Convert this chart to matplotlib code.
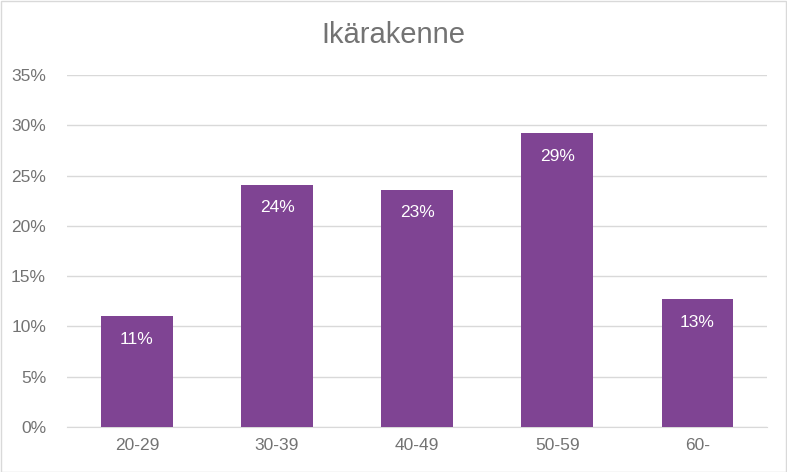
import matplotlib
matplotlib.use("Agg")
import matplotlib.pyplot as plt
from matplotlib.ticker import PercentFormatter

# data
groups = ['20-29', '30-39', '40-49', '50-59', '60-']
shares = [11.0, 24.1, 23.6, 29.2, 12.7]
shown = ['11%', '24%', '23%', '29%', '13%']

barcolor = '#7F4493'
textcolor = '#737373'
gridcolor = '#D9D9D9'

plt.rcParams['font.family'] = ['Liberation Sans', 'DejaVu Sans']

fig = plt.figure(figsize=(7.87, 4.72), dpi=100)
ax = fig.add_axes([0.085, 0.0953, 0.89, 0.7457])

x = range(len(groups))
bars = ax.bar(x, shares, width=0.51, color=barcolor, zorder=3)

for b, txt in zip(bars, shown):
    ax.annotate(txt, (b.get_x() + b.get_width() / 2, b.get_height()),
                xytext=(0, -16.5), textcoords='offset points',
                ha='center', va='center', color='white', fontsize=12.5)

ax.set_xlim(-0.5, len(groups) - 0.5)
ax.set_ylim(0, 35)
ax.set_yticks(range(0, 36, 5))
ax.yaxis.set_major_formatter(PercentFormatter(decimals=0))
ax.set_xticks(list(x))
ax.set_xticklabels(groups)

ax.grid(axis='y', color=gridcolor, linewidth=1, zorder=0)
for s in ['top', 'right', 'left']:
    ax.spines[s].set_visible(False)
ax.spines['bottom'].set_color(gridcolor)
ax.tick_params(axis='both', length=0, colors=textcolor, labelsize=12.5)
ax.tick_params(axis='y', pad=15)
ax.tick_params(axis='x', pad=8)

fig.text(0.5, 0.925, 'Ikärakenne', ha='center', va='center',
         fontsize=21, color=textcolor)

# thin frame round the whole chart
fig.patches.append(plt.Rectangle((0.001, 0.001), 0.998, 0.997, transform=fig.transFigure,
                                 fill=False, edgecolor=gridcolor, linewidth=1))

fig.savefig('out.png', dpi=100)
